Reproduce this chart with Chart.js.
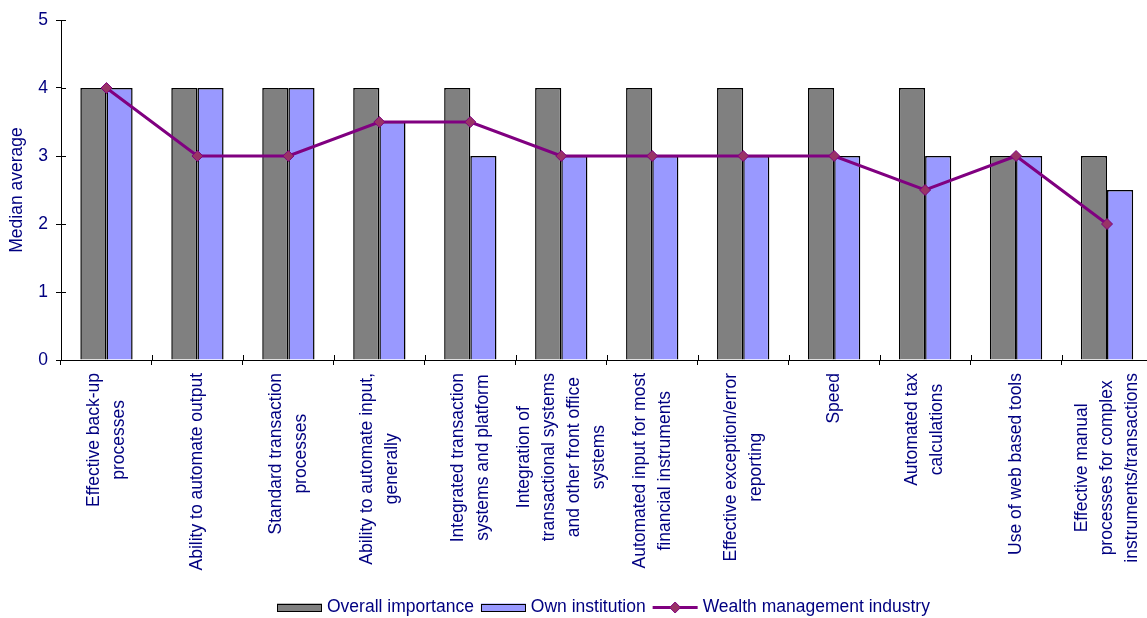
<!DOCTYPE html>
<html>
<head>
<meta charset="utf-8">
<script src="https://cdn.jsdelivr.net/npm/chart.js@4.4.1/dist/chart.umd.min.js"></script>
<style>
  html, body { margin: 0; padding: 0; background: #ffffff; overflow: hidden; }
  #wrap { position: relative; width: 1159px; height: 618px; }
</style>
</head>
<body>
<div id="wrap"><canvas id="chart" width="1159" height="618"></canvas></div>
<script>
// Category labels (each entry is split into the lines it is drawn on)
const categories = [
  ['Effective back-up', 'processes'],
  ['Ability to automate output'],
  ['Standard transaction', 'processes'],
  ['Ability to automate input,', 'generally'],
  ['Integrated transaction', 'systems and platform'],
  ['Integration of', 'transactional systems', 'and other front office', 'systems'],
  ['Automated input for most', 'financial instruments'],
  ['Effective exception/error', 'reporting'],
  ['Speed'],
  ['Automated tax', 'calculations'],
  ['Use of web based tools'],
  ['Effective manual', 'processes for complex', 'instruments/transactions']
];

// Median scores per category
const overallImportance = [4, 4, 4, 4, 4, 4, 4, 4, 4, 4, 3, 3];
const ownInstitution    = [4, 4, 4, 3.5, 3, 3, 3, 3, 3, 3, 3, 2.5];
const wealthIndustry    = [4, 3, 3, 3.5, 3.5, 3, 3, 3, 3, 2.5, 3, 2];

// Value axis
const yMin = 0;
const yMax = 5;
const yStep = 1;

// Legend entries
const seriesNames = ['Overall importance', 'Own institution', 'Wealth management industry'];

const FONT = '"Liberation Sans", Arial, Helvetica, sans-serif';
const NAVY = '#000080';
const GREY = '#808080';
const PERIWINKLE = '#9999FF';
const PURPLE = '#800080';
const PLUM = '#993366';

Chart.defaults.font.family = FONT;

// Draws the inner half of the cross tick marks, the centred multi-line
// category labels and the legend row at the bottom.
const decorations = {
  id: 'decorations',
  afterDraw(chart) {
    const { ctx, chartArea, scales } = chart;
    const x = scales.x, y = scales.y;
    ctx.save();

    // inner tick marks
    ctx.strokeStyle = '#000';
    ctx.lineWidth = 1;
    ctx.beginPath();
    y.ticks.forEach((t, i) => {
      const py = Math.round(y.getPixelForTick(i)) + 0.5;
      ctx.moveTo(chartArea.left, py);
      ctx.lineTo(chartArea.left + 5, py);
    });
    const n = chart.data.labels.length;
    for (let i = 1; i <= n; i++) {
      const px = Math.round(x.left + i * x.width / n) + 0.5;
      ctx.moveTo(px, chartArea.bottom);
      ctx.lineTo(px, chartArea.bottom - 5);
    }
    ctx.stroke();

    // category labels, rotated, lines centred on each other
    ctx.fillStyle = NAVY;
    ctx.font = '17.5px ' + FONT;
    ctx.textAlign = 'center';
    ctx.textBaseline = 'middle';
    const lineGap = 25;
    chart.data.labels.forEach((lines, i) => {
      const cx = x.getPixelForTick(i);
      const w = Math.max(...lines.map(l => ctx.measureText(l).width));
      const cy = chartArea.bottom + 13 + w / 2;
      lines.forEach((l, j) => {
        ctx.save();
        ctx.translate(cx + (j - (lines.length - 1) / 2) * lineGap, cy);
        ctx.rotate(-Math.PI / 2);
        ctx.fillText(l, 0, 0);
        ctx.restore();
      });
    });

    // legend
    const symW = 45, symH = 8, gapSym = 5, gapItem = 7;
    ctx.font = '17.5px ' + FONT;
    ctx.textAlign = 'left';
    const widths = seriesNames.map(s => ctx.measureText(s).width);
    let total = 0;
    widths.forEach((w, i) => { total += symW + gapSym + w + (i < widths.length - 1 ? gapItem : 0); });
    let lx = Math.round(603 - total / 2);
    const ly = 607.5;
    chart.data.datasets.slice().sort((a, b) => a.legendIndex - b.legendIndex).forEach((ds, i) => {
      if (ds.type === 'bar') {
        ctx.fillStyle = ds.backgroundColor;
        ctx.fillRect(lx, ly - symH / 2, symW, symH);
        ctx.strokeStyle = '#000';
        ctx.lineWidth = 1;
        ctx.strokeRect(Math.round(lx) + 0.5, Math.round(ly - symH / 2) + 0.5, symW - 1, symH - 1);
      } else {
        ctx.strokeStyle = ds.borderColor;
        ctx.lineWidth = 3;
        ctx.beginPath();
        ctx.moveTo(lx, ly);
        ctx.lineTo(lx + symW, ly);
        ctx.stroke();
        const r = 5.5, mx = lx + symW / 2;
        ctx.beginPath();
        ctx.moveTo(mx, ly - r); ctx.lineTo(mx + r, ly); ctx.lineTo(mx, ly + r); ctx.lineTo(mx - r, ly);
        ctx.closePath();
        ctx.fillStyle = ds.pointBackgroundColor;
        ctx.fill();
        ctx.lineWidth = 1;
        ctx.strokeStyle = ds.pointBorderColor;
        ctx.stroke();
      }
      lx += symW + gapSym;
      ctx.fillStyle = NAVY;
      ctx.textBaseline = 'middle';
      ctx.fillText(ds.label, lx, ly);
      lx += widths[i] + gapItem;
    });

    ctx.restore();
  }
};

new Chart(document.getElementById('chart'), {
  data: {
    labels: categories,
    datasets: [
      {
        type: 'line',
        label: seriesNames[2],
        legendIndex: 2,
        data: wealthIndustry,
        borderColor: PURPLE,
        borderWidth: 3,
        tension: 0,
        pointStyle: 'rectRot',
        pointRadius: 5.5,
        pointBackgroundColor: PLUM,
        pointBorderColor: PURPLE,
        pointBorderWidth: 1,
        order: 0
      },
      {
        type: 'bar',
        label: seriesNames[0],
        legendIndex: 0,
        data: overallImportance,
        backgroundColor: GREY,
        borderColor: '#000000',
        borderWidth: 1.5,
        categoryPercentage: 0.575,
        barPercentage: 1,
        order: 1
      },
      {
        type: 'bar',
        label: seriesNames[1],
        legendIndex: 1,
        data: ownInstitution,
        backgroundColor: PERIWINKLE,
        borderColor: '#000000',
        borderWidth: 1.5,
        categoryPercentage: 0.575,
        barPercentage: 1,
        order: 1
      }
    ]
  },
  options: {
    responsive: false,
    animation: false,
    devicePixelRatio: 1,
    layout: { padding: { top: 20, right: 0, bottom: 0, left: 0 } },
    plugins: {
      legend: { display: false },
      tooltip: { enabled: false }
    },
    scales: {
      x: {
        type: 'category',
        offset: true,
        grid: { offset: true, drawOnChartArea: false, drawTicks: true, tickLength: 5, color: '#000000' },
        border: { color: '#000000', width: 1 },
        ticks: { display: false },
        afterFit(scale) { scale.height = 258; }
      },
      y: {
        min: yMin,
        max: yMax,
        ticks: { stepSize: yStep, color: NAVY, font: { size: 17.5 }, padding: 8 },
        grid: { drawOnChartArea: false, drawTicks: true, tickLength: 5, color: '#000000' },
        border: { color: '#000000', width: 1 },
        title: {
          display: true,
          text: 'Median average',
          color: NAVY,
          font: { size: 17.5 },
          padding: { top: 6.5, bottom: 0 }
        },
        afterFit(scale) { scale.width = 61; }
      }
    }
  },
  plugins: [decorations]
});
</script>
</body>
</html>
